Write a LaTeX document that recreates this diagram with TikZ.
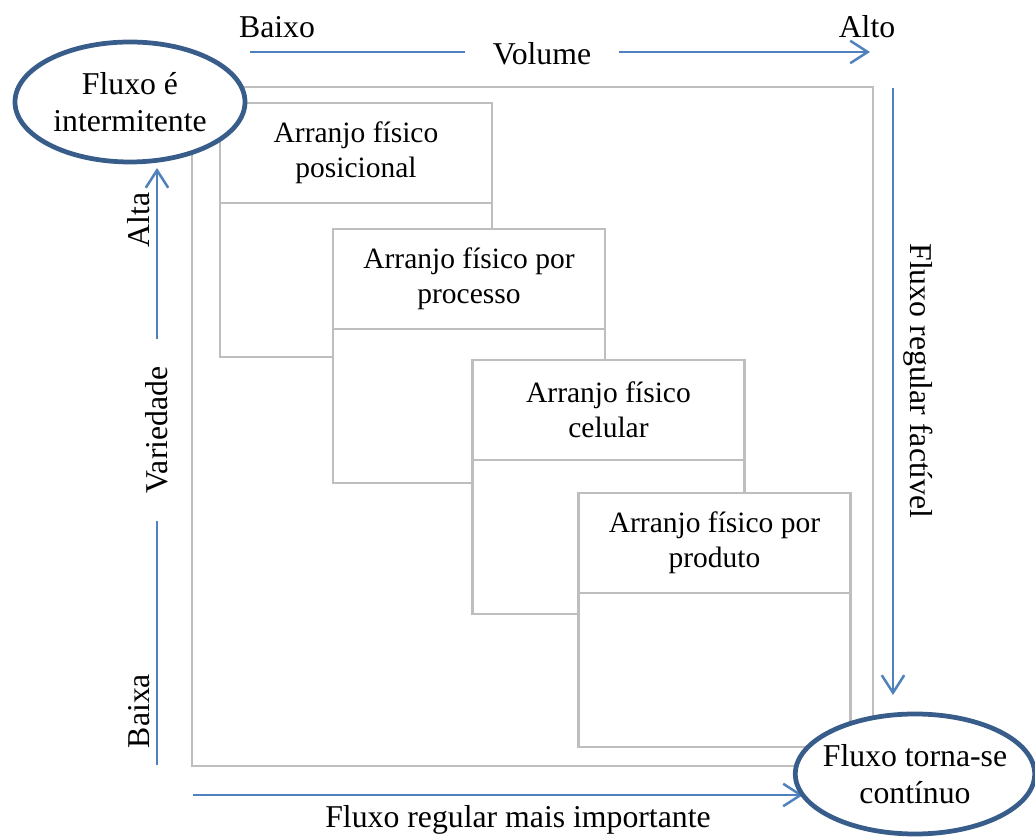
\documentclass[tikz,border=0pt]{standalone}
\usepackage{fontspec}
\setmainfont{Liberation Serif}
\usetikzlibrary{arrows.meta,positioning,shapes.geometric}
\definecolor{azulseta}{RGB}{79,129,189}
\definecolor{azulborda}{RGB}{56,93,138}
\definecolor{cinzaquadro}{RGB}{190,190,190}

\begin{document}
\begin{tikzpicture}[x=0.4pt, y=-0.4pt,
  arranjo/.style={draw=cinzaquadro, line width=0.9pt, fill=white, minimum width=108.8pt, minimum height=101.6pt, inner sep=0pt, outer sep=0pt},
  cabec/.style={draw=cinzaquadro, line width=0.9pt, minimum width=108.8pt, minimum height=40pt, align=center, inner sep=2pt, outer sep=0pt, font=\fontsize{11.8}{14}\selectfont},
  fluxo/.style={ellipse, draw=azulborda, line width=1.9pt, fill=white, minimum width=92pt, minimum height=48pt, inner sep=0pt, align=center, font=\fontsize{12.7}{14.8}\selectfont},
  rotulo/.style={inner sep=0pt, font=\fontsize{12.7}{15}\selectfont},
  linha/.style={draw=azulseta, line width=1pt},
  seta/.style={linha, -{Straight Barb[length=7pt, width=9pt]}},
]
  \useasboundingbox (0,0) rectangle (1035,837);

  % moldura externa
  \draw[cinzaquadro, line width=0.9pt] (192,87) rectangle (873,766);

  % arranjos fisicos
  \node[arranjo] (posicional) at (356,230) {};
  \node[cabec, anchor=north] (posicionalh) at (posicional.north) {Arranjo físico\\posicional};
  \node[arranjo] (processo) at (469,356) {};
  \node[cabec, anchor=north] (processoh) at (processo.north) {Arranjo físico por\\processo};
  \node[arranjo] (celular) at (608.5,487) {};
  \node[cabec, anchor=north] (celularh) at (celular.north) {Arranjo físico\\celular};
  \node[arranjo] (produto) at (714.5,620) {};
  \node[cabec, anchor=north] (produtoh) at (produto.north) {Arranjo físico por\\produto};

  % volume
  \node[rotulo] (baixo) at (277,27) {Baixo};
  \node[rotulo] (alto) at (867,27) {Alto};
  \node[rotulo, inner xsep=11pt] (volume) at (542,54) {Volume};
  \coordinate (vol0) at (250,52);
  \coordinate (vol1) at (870,52);
  \draw[linha] (vol0) -- (vol0 -| volume.west);
  \draw[seta] (vol1 -| volume.east) -- (vol1);

  % variedade
  \node[rotulo, rotate=90] (alta) at (139,220) {Alta};
  \node[rotulo, rotate=90] (baixa) at (139,711) {Baixa};
  \node[rotulo, rotate=90, inner xsep=11pt] (variedade) at (157,430) {Variedade};
  \coordinate (var0) at (157,168);
  \coordinate (var1) at (157,765);
  \draw[seta] (variedade.east) -- (var0);
  \draw[linha] (variedade.west) -- (var1);

  % fluxo regular
  \node[rotulo, rotate=-90] (factivel) at (918,381) {Fluxo regular factível};
  \coordinate (fr0) at (893,88);
  \coordinate (fr1) at (893,695);
  \draw[seta] (fr0) -- (fr1);
  \node[rotulo] (importante) at (518,820) {Fluxo regular mais importante};
  \coordinate (fm0) at (193,795);
  \coordinate (fm1) at (803,795);
  \draw[seta] (fm0) -- (fm1);

  \node[fluxo] (intermitente) at (130,102) {Fluxo é\\intermitente};
  \node[fluxo, inner xsep=-3pt] (continuo) at (915,774) {Fluxo torna-se\\contínuo};
\end{tikzpicture}
\end{document}
